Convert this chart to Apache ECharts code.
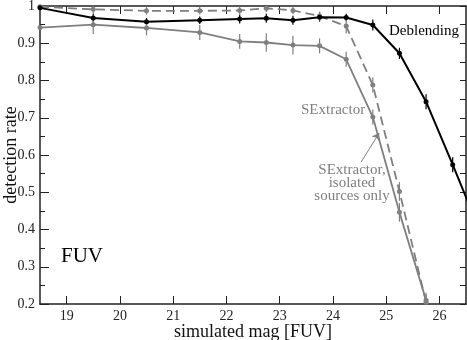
<!DOCTYPE html>
<html>
<head>
<meta charset="utf-8">
<script src="https://cdn.jsdelivr.net/npm/echarts@6/dist/echarts.min.js"></script>
<style>
  html, body { margin: 0; padding: 0; background: #fff; }
  #chart { width: 467px; height: 340px; }
</style>
</head>
<body>
<div id="chart"></div>
<script>
// simulated magnitudes (FUV)
var deblendMag  = [18.5, 19.5, 20.5, 21.5, 22.25, 22.75, 23.25, 23.75, 24.25, 24.75, 25.25, 25.75, 26.25, 26.75];
var deblendRate = [0.995, 0.968, 0.958, 0.962, 0.965, 0.967, 0.962, 0.970, 0.969, 0.949, 0.873, 0.743, 0.574, 0.40];
var deblendErr  = [0.005, 0.012, 0.010, 0.010, 0.012, 0.012, 0.012, 0.012, 0.010, 0.015, 0.015, 0.020, 0.020, 0.020];

var sexMag  = [18.5, 19.5, 20.5, 21.5, 22.25, 22.75, 23.25, 23.75, 24.25, 24.75, 25.25, 25.75];
var sexRate = [0.942, 0.950, 0.941, 0.929, 0.905, 0.902, 0.895, 0.893, 0.857, 0.702, 0.446, 0.210];
var sexErr  = [0.008, 0.025, 0.020, 0.020, 0.020, 0.025, 0.025, 0.020, 0.020, 0.020, 0.025, 0.020];

var isoMag  = [18.5, 19.5, 20.5, 21.5, 22.25, 22.75, 23.25, 23.75, 24.25, 24.75, 25.25, 25.75];
var isoRate = [0.998, 0.991, 0.987, 0.987, 0.988, 0.994, 0.988, 0.973, 0.946, 0.788, 0.502, 0.205];
var isoErr  = [0.004, 0.010, 0.010, 0.010, 0.010, 0.010, 0.010, 0.012, 0.020, 0.020, 0.025, 0.020];

var xTicks = [19, 20, 21, 22, 23, 24, 25, 26];

var gray = '#7f7f7f';
var font = 'Liberation Serif';

function zipPts(xs, ys) {
	return xs.map(function (x, i) { return [x, ys[i]]; });
}
function zipErr(xs, ys, es) {
	return xs.map(function (x, i) { return [x, ys[i], es[i]]; });
}

function errorBars(name, data, color) {
	return {
		name: name,
		type: 'custom',
		clip: true,
		z: 1,
		data: data,
		renderItem: function (params, api) {
			var x = api.value(0), y = api.value(1), e = api.value(2);
			var lo = api.coord([x, y - e]);
			var hi = api.coord([x, y + e]);
			return {
				type: 'line',
				shape: { x1: lo[0], y1: lo[1], x2: hi[0], y2: hi[1] },
				style: { stroke: color, lineWidth: 1.2 }
			};
		}
	};
}

var dom = document.getElementById('chart');
var myChart = echarts.init(dom);

var option = {
	animation: false,
	backgroundColor: '#fff',
	textStyle: { fontFamily: font },
	grid: { left: 40, right: 1, top: 6, bottom: 36, outerBoundsMode: 'none', containLabel: false },
	xAxis: [{
		type: 'value',
		min: 18.5,
		max: 26.5,
		name: 'simulated mag [FUV]',
		nameLocation: 'middle',
		nameMoveOverlap: false,
		nameGap: 19,
		nameTextStyle: { fontFamily: font, fontSize: 18, color: '#111' },
		axisLine: { show: true, onZero: false, lineStyle: { color: '#222', width: 1.5 } },
		axisTick: { show: true, inside: true, length: 8, customValues: xTicks, lineStyle: { color: '#222' } },
		axisLabel: { customValues: xTicks, margin: 5, fontFamily: font, fontSize: 14, color: '#222' },
		splitLine: { show: false }
	}, {
		type: 'value',
		position: 'top',
		min: 18.5,
		max: 26.5,
		axisLine: { show: true, onZero: false, lineStyle: { color: '#222', width: 1.5 } },
		axisTick: { show: true, inside: true, length: 8, customValues: xTicks, lineStyle: { color: '#222' } },
		axisLabel: { show: false },
		splitLine: { show: false }
	}],
	yAxis: [{
		type: 'value',
		min: 0.2,
		max: 1,
		interval: 0.1,
		name: 'detection rate',
		nameLocation: 'middle',
		nameMoveOverlap: false,
		nameGap: 20,
		nameTextStyle: { fontFamily: font, fontSize: 18, color: '#111' },
		axisLine: { show: true, onZero: false, lineStyle: { color: '#222', width: 1.5 } },
		axisTick: { show: true, inside: true, length: 9, lineStyle: { color: '#222' } },
		minorTick: { show: true, splitNumber: 2, length: 5, lineStyle: { color: '#222' } },
		axisLabel: {
			margin: 5,
			fontFamily: font,
			fontSize: 14,
			color: '#222',
			formatter: function (v) { return String(+v.toFixed(1)); }
		},
		splitLine: { show: false }
	}, {
		type: 'value',
		position: 'right',
		min: 0.2,
		max: 1,
		interval: 0.05,
		axisLine: { show: true, onZero: false, lineStyle: { color: '#222', width: 1.5 } },
		axisTick: { show: true, inside: true, length: 6, lineStyle: { color: '#222' } },
		axisLabel: { show: false },
		splitLine: { show: false }
	}],
	series: [
		errorBars('deblendErr', zipErr(deblendMag, deblendRate, deblendErr), '#000'),
		errorBars('sexErr', zipErr(sexMag, sexRate, sexErr), gray),
		errorBars('isoErr', zipErr(isoMag, isoRate, isoErr), gray),
		{
			name: 'SExtractor',
			type: 'line',
			clip: true,
			z: 2,
			data: zipPts(sexMag, sexRate),
			symbol: 'circle',
			symbolSize: 5,
			itemStyle: { color: gray },
			lineStyle: { color: gray, width: 1.8 }
		},
		{
			name: 'SExtractor, isolated sources only',
			type: 'line',
			clip: true,
			z: 2,
			data: zipPts(isoMag, isoRate),
			symbol: 'circle',
			symbolSize: 5,
			itemStyle: { color: gray },
			lineStyle: { color: gray, width: 1.8, type: [9, 5] },
			markLine: {
				silent: true,
				symbol: ['none', 'arrow'],
				symbolSize: 7,
				label: { show: false },
				lineStyle: { color: gray, width: 1, type: 'solid' },
				data: [[{ coord: [24.53, 0.581] }, { coord: [24.87, 0.659] }]]
			}
		},
		{
			name: 'Deblending',
			type: 'line',
			clip: true,
			z: 3,
			data: zipPts(deblendMag, deblendRate),
			symbol: 'circle',
			symbolSize: 5,
			itemStyle: { color: '#000' },
			lineStyle: { color: '#000', width: 2 }
		}
	],
	graphic: [
		{ type: 'text', left: 389, top: 24, style: { text: 'Deblending', font: '15px "Liberation Serif"', fill: '#000' } },
		{ type: 'text', left: 301, top: 103, style: { text: 'SExtractor', font: '15px "Liberation Serif"', fill: gray } },
		{ type: 'text', x: 352, y: 164, style: { text: 'SExtractor,\nisolated\nsources only', font: '15px "Liberation Serif"', fill: gray, align: 'center', lineHeight: 13 } },
		{ type: 'text', left: 61, top: 246, style: { text: 'FUV', font: '21px "Liberation Serif"', fill: '#000' } }
	]
};

myChart.setOption(option);
</script>
</body>
</html>
